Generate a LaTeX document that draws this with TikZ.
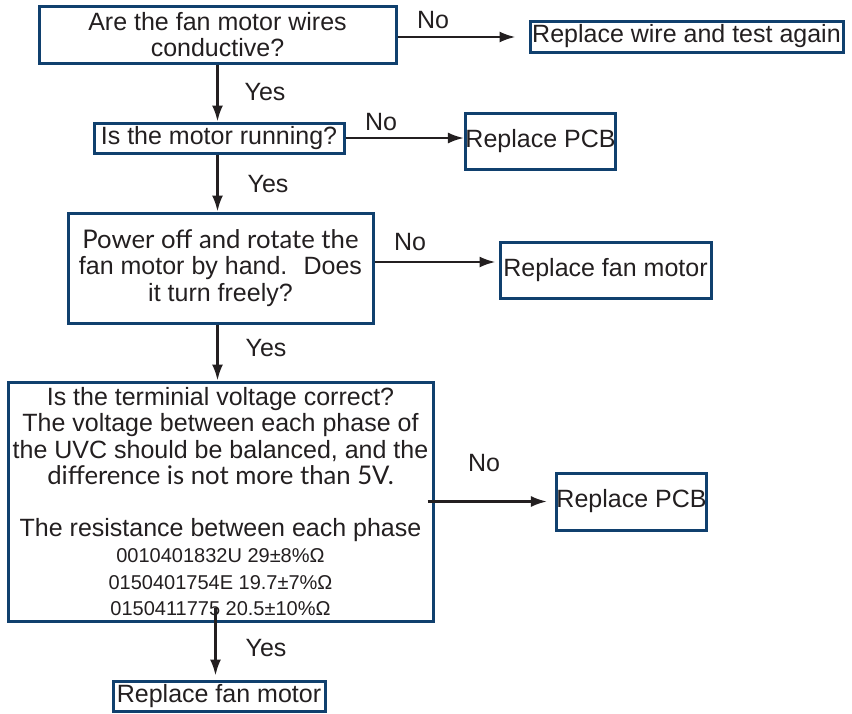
\documentclass[tikz,border=0pt]{standalone}
\usepackage{fontspec}
\setmainfont{Liberation Sans}
\newfontfamily\numfont{Liberation Sans}
\newfontfamily\altfont{Lato}
\usetikzlibrary{arrows.meta,positioning}
\definecolor{boxblue}{RGB}{16,64,110}
\definecolor{ink}{RGB}{35,31,32}

\begin{document}
\begin{tikzpicture}[x=1pt, y=-1pt,
  box/.style={draw=boxblue, line width=3pt, inner sep=0pt, align=center, text=ink, font=\fontsize{25}{26.5}\selectfont},
  answer/.style={inner sep=0pt, text=ink, font=\fontsize{25}{26.5}\selectfont},
  flow/.style={-{Latex[length=16pt,width=11pt]}, line width=2.4pt, draw=ink}
]
  \useasboundingbox (0,0) rectangle (852,713);

  % questions
  \node[box, minimum width=357pt, minimum height=57pt] (Q-1) at (217.5,34.5) {Are the fan motor wires\\conductive?};
  \node[box, minimum width=250pt, minimum height=30pt] (Q-2) at (219,138) {Is the motor running?};
  \node[box, minimum width=305pt, minimum height=110pt] (Q-3) at (220.5,268)
    {{\altfont\fontsize{25.7}{26.5}\selectfont Power off and rotate the}\\fan motor by hand.~ Does\\it turn freely?};
  \node[box, minimum width=425pt, minimum height=239pt] (Q-4) at (220.5,501.5)
    {Is the terminial voltage correct?\\
     The voltage between each phase of\\
     the UVC should be balanced, and the\\
     {\altfont\fontsize{25.7}{27}\selectfont difference is not more than 5V.}\\[25pt]
     The resistance between each phase\\
     {\numfont\fontsize{20}{26}\selectfont 0010401832U 29±8\%Ω}\\
     {\numfont\fontsize{20}{26}\selectfont 0150401754E 19.7±7\%Ω}\\
     {\numfont\fontsize{20}{26}\selectfont 0150411775 20.5±10\%Ω}};

  % remedies
  \node[box, minimum width=313pt, minimum height=31pt] (R-1) at (686.5,36.5) {Replace wire and test again};
  \node[box, minimum width=145pt, minimum height=56pt] (R-2) at (540.5,141) {Replace PCB};
  \node[box, minimum width=211pt, minimum height=56pt] (R-3) at (605.5,270) {Replace fan motor};
  \node[box, minimum width=147pt, minimum height=57pt] (R-4) at (631.5,501.5) {Replace PCB};
  \node[box, minimum width=212pt, minimum height=30pt] (R-5) at (219,696) {Replace fan motor};

  % answers
  \node[answer] (N-1) at (433,20) {No};
  \node[answer] (N-2) at (381,122) {No};
  \node[answer] (N-3) at (410,242) {No};
  \node[answer] (N-4) at (484,463) {No};
  \node[answer] (Y-1) at (265,92) {Yes};
  \node[answer] (Y-2) at (268,184) {Yes};
  \node[answer] (Y-3) at (266,348) {Yes};
  \node[answer] (Y-4) at (266,648) {Yes};

  % yes branch
  \draw[flow] (Q-1.south) -- (Q-1.south |- Q-2.north);
  \draw[flow] (Q-1.south |- Q-2.south) -- (Q-1.south |- Q-3.north);
  \draw[flow] (Q-1.south |- Q-3.south) -- (Q-1.south |- Q-4.north);
  \draw[flow, shorten <=-15pt, shorten >=4pt] ([xshift=-2pt]Q-1.south |- Q-4.south) -- ([xshift=-2pt]Q-1.south |- R-5.north);

  % no branch
  \draw[flow, shorten >=13pt] ([yshift=-2.5pt]Q-1.east) -- ([yshift=-2.5pt]Q-1.east -| R-1.west);
  \draw[flow] (Q-2.east) -- (Q-2.east -| R-2.west);
  \draw[flow, shorten >=3pt] ([yshift=6pt]Q-3.east) -- ([yshift=6pt]Q-3.east -| R-3.west);
  \draw[flow, shorten <=-7pt, shorten >=8pt] (Q-4.east) -- (Q-4.east -| R-4.west);
\end{tikzpicture}
\end{document}
